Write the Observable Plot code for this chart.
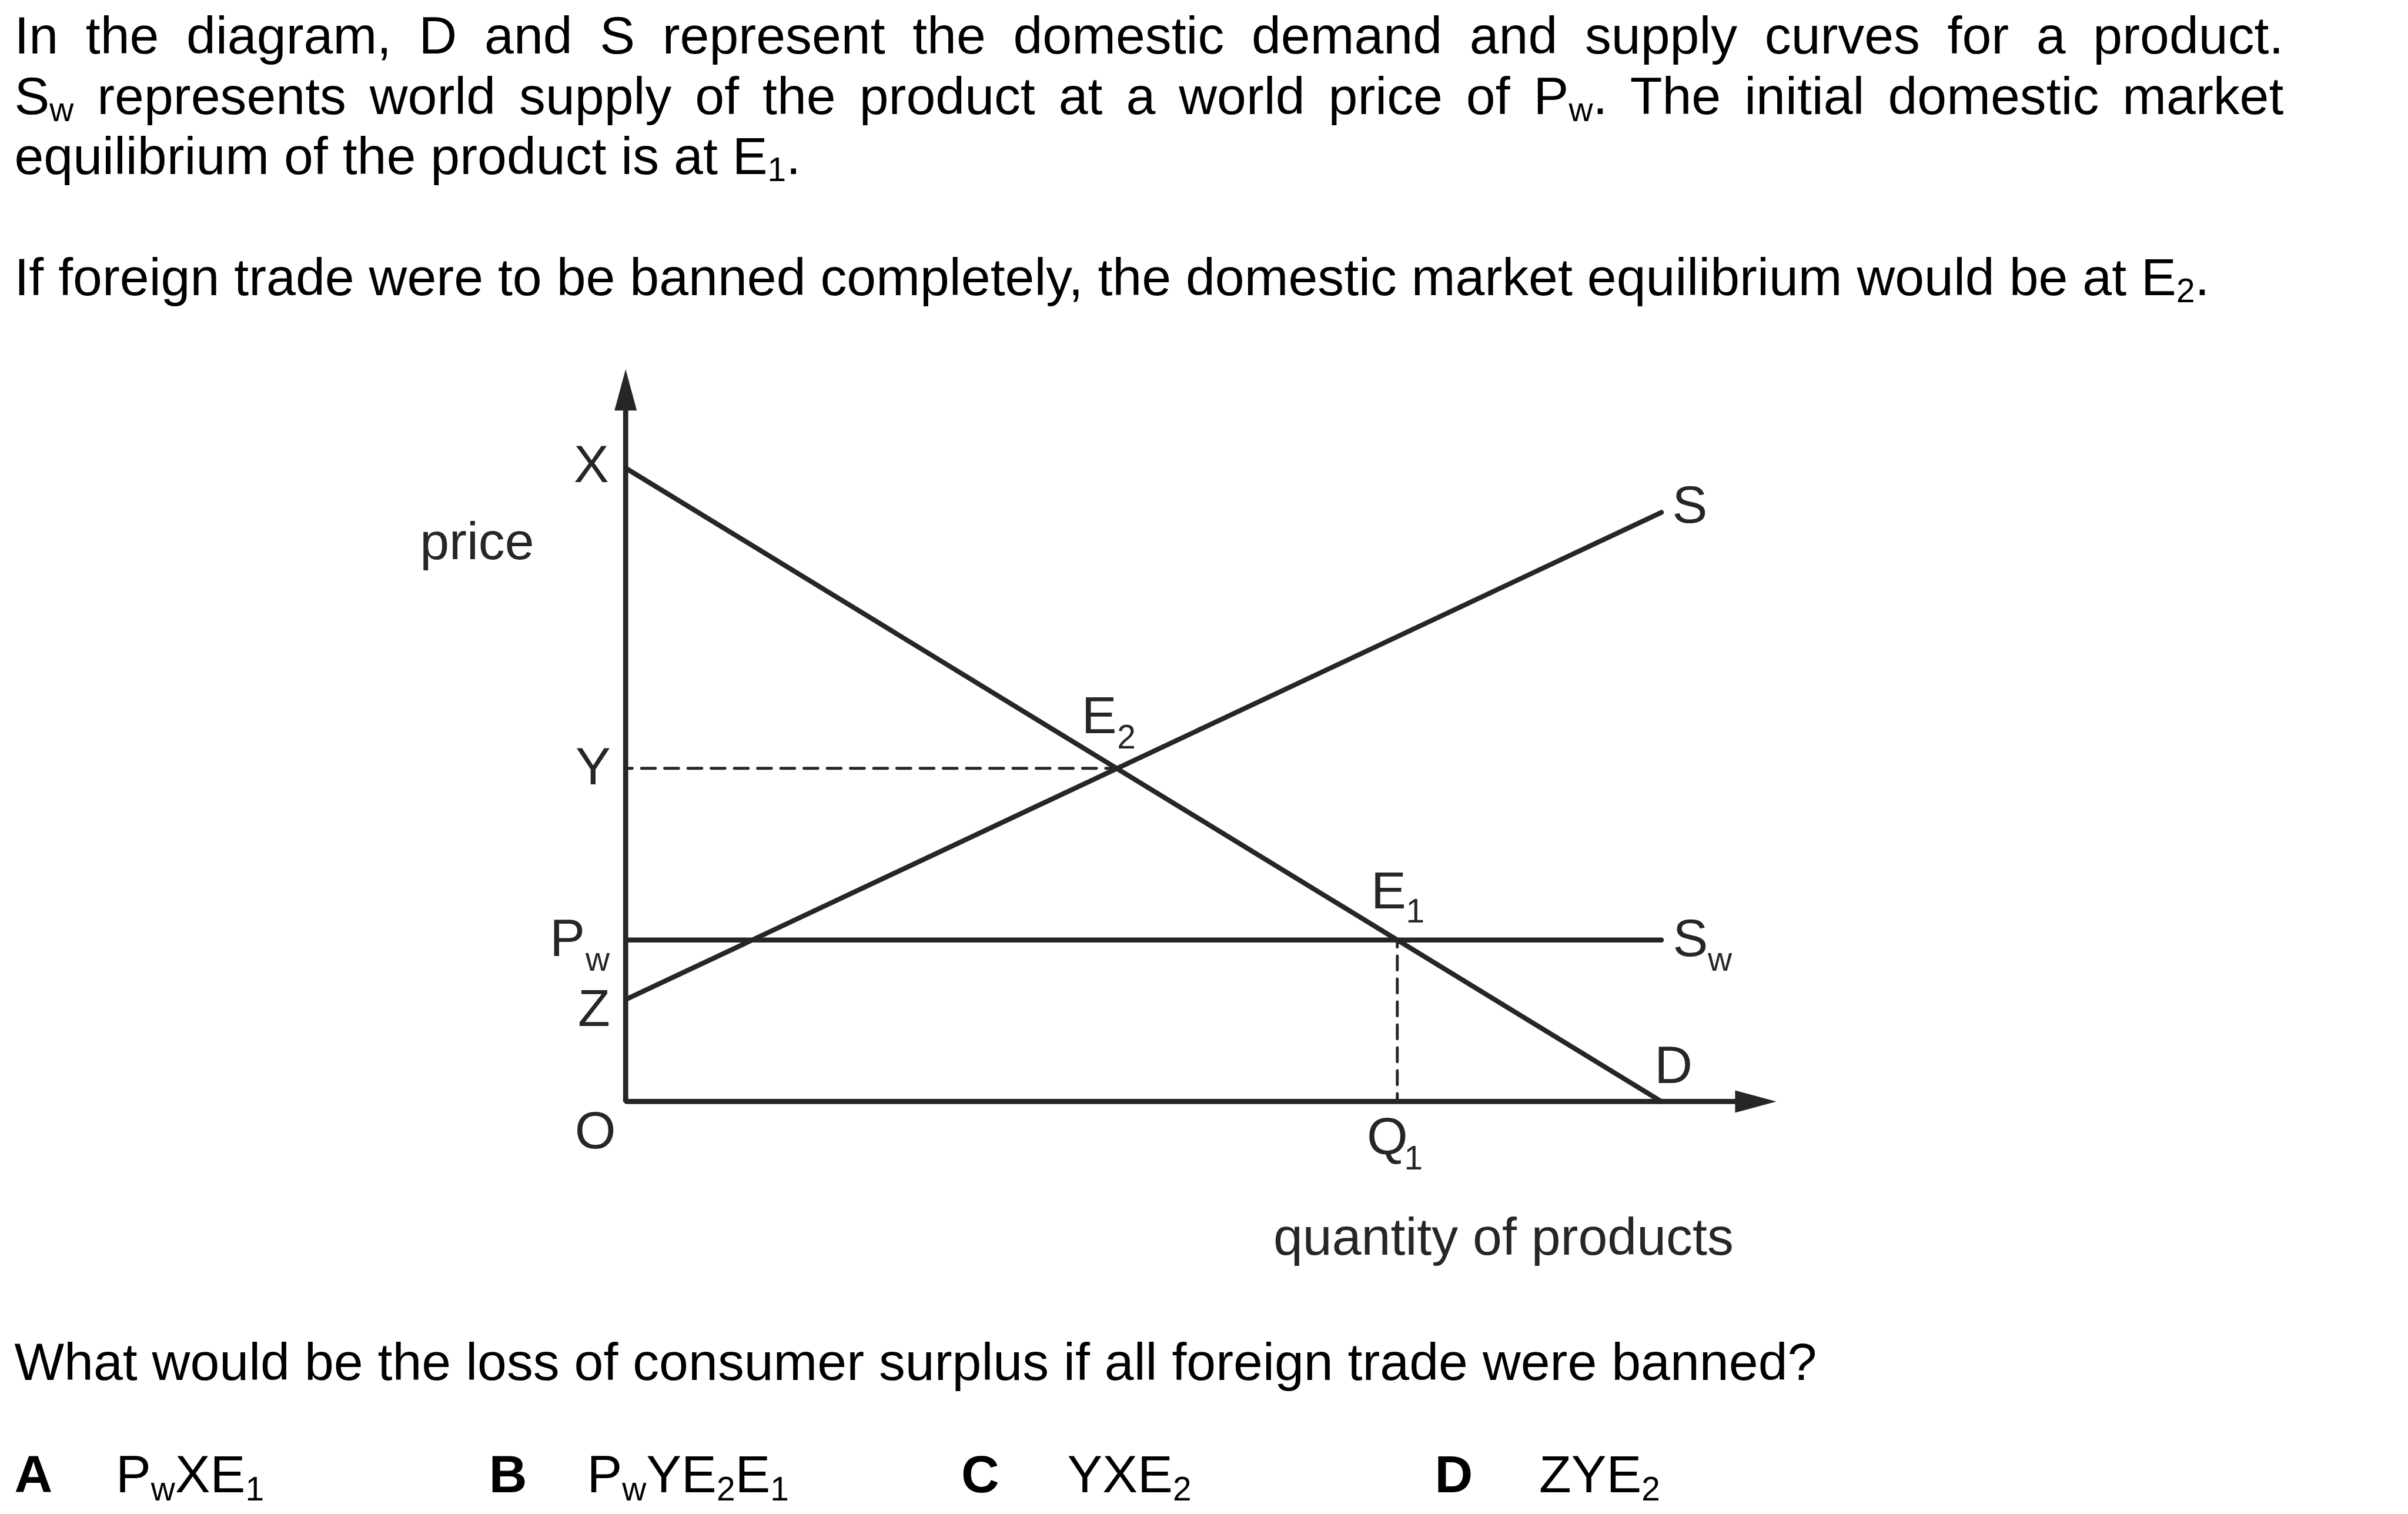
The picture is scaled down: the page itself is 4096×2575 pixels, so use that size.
<!DOCTYPE html>
<html>
<head>
<meta charset="utf-8">
<script src="https://cdn.jsdelivr.net/npm/d3@7"></script>
<script src="https://cdn.jsdelivr.net/npm/@observablehq/plot@0.6"></script>
<style>
html, body { margin: 0; padding: 0; background: #fff; }
body { width: 4096px; height: 2575px; position: relative; overflow: hidden;
  font-family: "Liberation Sans", Arial, sans-serif; color: #000; }
.ln { position: absolute; font-size: 89.7px; line-height: 89.7px; }
.just { text-align: justify; text-align-last: justify; }
.sub { font-size: 56.8px; line-height: 0; }
.b { font-weight: bold; }
#chart { position: absolute; left: 0; top: 546px; }
</style>
</head>
<body>
<div id="chart"></div>
<script>
// ---------------- data ----------------
// quantity units: D meets the quantity axis at 10; price units: X = 10
const demandQ = [0, 10];
const demandP = [10, 0];
const supplyQ = [0, 10];
const supplyP = [1.61, 9.3];
const worldSupplyQ = [0, 10];
const worldPrice = 2.55;
const e1 = {q: 7.45, p: 2.55};
const e2 = {q: 4.74, p: 5.26};
const axisTip = {q: 11.11, p: 11.56};
const axisLineEnd = {q: 10.8, p: 11.0};

const labels = [
  {key: "X", main: "X", sub: "", q: 0, p: 10},
  {key: "Y", main: "Y", sub: "", q: 0, p: 5.26},
  {key: "Pw", main: "P", sub: "w", q: 0, p: 2.55},
  {key: "Z", main: "Z", sub: "", q: 0, p: 1.61},
  {key: "O", main: "O", sub: "", q: 0, p: 0},
  {key: "E2", main: "E", sub: "2", q: 4.74, p: 5.26},
  {key: "E1", main: "E", sub: "1", q: 7.45, p: 2.55},
  {key: "Q1", main: "Q", sub: "1", q: 7.45, p: 0},
  {key: "S", main: "S", sub: "", q: 10, p: 9.3},
  {key: "Sw", main: "S", sub: "w", q: 10, p: 2.55},
  {key: "D", main: "D", sub: "", q: 10, p: 0},
  {key: "price", main: "price", sub: "", q: 0, p: 10},
  {key: "qty", main: "quantity of products", sub: "", q: 10, p: 0}
];

const introLines = [
  ["In the diagram, D and S represent the domestic demand and supply curves for a product."],
  ["S", {sub: "w"}, " represents world supply of the product at a world price of P", {sub: "w"}, ". The initial domestic market"],
  ["equilibrium of the product is at E", {sub: "1"}, "."],
  ["If foreign trade were to be banned completely, the domestic market equilibrium would be at E", {sub: "2"}, "."]
];
const questionText = ["What would be the loss of consumer surplus if all foreign trade were banned?"];
const optionLetters = ["A", "B", "C", "D"];
const optionTexts = [
  ["P", {sub: "w"}, "XE", {sub: "1"}],
  ["P", {sub: "w"}, "YE", {sub: "2"}, "E", {sub: "1"}],
  ["YXE", {sub: "2"}],
  ["ZYE", {sub: "2"}]
];

// ---------------- styles / layout ----------------
const s = 0.975;
const ink = "#262626";
const font = "Liberation Sans, Arial, sans-serif";
const mainSize = 92 * s, subSize = 58.3 * s;

// label offsets in reference px: [anchor, dx, dy] for main and sub
const labelStyle = {
  X:  {m: ["end", -29, 24]},
  Y:  {m: ["end", -26, 28]},
  Pw: {m: ["end", -71, 28], s: ["end", -28, 54]},
  Z:  {m: ["end", -27, 46]},
  O:  {m: ["middle", -53, 82]},
  E2: {m: ["start", -61, -61], s: ["start", 1, -35]},
  E1: {m: ["start", -46, -55], s: ["start", 15, -30]},
  Q1: {m: ["start", -53, 92], s: ["start", 12, 118]},
  S:  {m: ["start", 19, 18]},
  Sw: {m: ["start", 20, 28], s: ["start", 81, 54]},
  D:  {m: ["start", -12, -32]},
  price: {m: ["start", -359, 159]},
  qty: {m: ["start", -677, 267]}
};

const pts = (Q, P) => Q.map((q, i) => ({q, p: P[i]}));

const arrowW = 39 * s, arrowL = 72 * s;
const arrowUp = {draw(ctx) { ctx.moveTo(0, 0); ctx.lineTo(arrowW / 2, arrowL); ctx.lineTo(-arrowW / 2, arrowL); ctx.closePath(); }};
const arrowRight = {draw(ctx) { ctx.moveTo(0, 0); ctx.lineTo(-arrowL, arrowW / 2); ctx.lineTo(-arrowL, -arrowW / 2); ctx.closePath(); }};

const textMarks = [];
for (const l of labels) {
  const st = labelStyle[l.key];
  const [a, dx, dy] = st.m;
  textMarks.push(Plot.text([l], {x: "q", y: "p", text: "main", textAnchor: a, lineAnchor: "bottom",
    dx: dx * s, dy: dy * s, fontSize: mainSize, fontFamily: font, fill: ink}));
  if (l.sub) {
    const [a2, dx2, dy2] = st.s;
    textMarks.push(Plot.text([l], {x: "q", y: "p", text: "sub", textAnchor: a2, lineAnchor: "bottom",
      dx: dx2 * s, dy: dy2 * s, fontSize: subSize, fontFamily: font, fill: ink}));
  }
}

const svgTop = 560, svgH = (2240 - 560) * s;
const chart = Plot.plot({
  width: 4096,
  height: svgH,
  margin: 0,
  x: {domain: [0, 10], range: [1091 * s, 2898 * s], axis: null},
  y: {domain: [0, 10], range: [(1921 - svgTop) * s, (816 - svgTop) * s], axis: null},
  style: {background: "transparent", fontFamily: font},
  marks: [
    Plot.line(pts([0, e2.q], [e2.p, e2.p]), {x: "q", y: "p", stroke: ink, strokeWidth: 5 * s,
      strokeDasharray: `${24.5 * s},${16 * s}`, strokeDashoffset: 13 * s}),
    Plot.line(pts([e1.q, e1.q], [e1.p, 0]), {x: "q", y: "p", stroke: ink, strokeWidth: 5 * s,
      strokeDasharray: `${24.5 * s},${15.5 * s}`, strokeDashoffset: 12 * s}),
    Plot.line(pts(worldSupplyQ, [worldPrice, worldPrice]), {x: "q", y: "p", stroke: ink, strokeWidth: 8.7 * s}),
    Plot.line(pts(demandQ, demandP), {x: "q", y: "p", stroke: ink, strokeWidth: 8.5 * s}),
    Plot.line(pts(supplyQ, supplyP), {x: "q", y: "p", stroke: ink, strokeWidth: 8.5 * s}),
    Plot.line(pts([0, 0, axisLineEnd.q], [axisLineEnd.p, 0, 0]), {x: "q", y: "p", stroke: ink,
      strokeWidth: 9 * s, strokeLinejoin: "miter", strokeLinecap: "butt"}),
    Plot.dot([{q: 0, p: axisTip.p}], {x: "q", y: "p", symbol: arrowUp, r: 10, fill: ink, stroke: "none"}),
    Plot.dot([{q: axisTip.q, p: 0}], {x: "q", y: "p", symbol: arrowRight, r: 10, fill: ink, stroke: "none"}),
    ...textMarks
  ]
});
document.getElementById("chart").appendChild(chart);

// ---------------- html text ----------------
function render(el, segs, subShift) {
  for (const sg of segs) {
    if (typeof sg === "string") el.appendChild(document.createTextNode(sg));
    else {
      const sp = document.createElement("span");
      sp.className = "sub";
      sp.style.verticalAlign = `${-subShift}px`;
      sp.textContent = sg.sub;
      el.appendChild(sp);
    }
  }
}
const F = 92 * s;
const baseToTop = 0.8465 * F;
function addLine(segs, left, baseline, opts = {}) {
  const d = document.createElement("div");
  d.className = "ln" + (opts.just ? " just" : "") + (opts.bold ? " b" : "");
  d.style.left = left + "px";
  d.style.top = (baseline - baseToTop) + "px";
  if (opts.width) d.style.width = opts.width + "px";
  else d.style.whiteSpace = "nowrap";
  render(d, segs, opts.subShift || 12 * s);
  document.body.appendChild(d);
}
const introBase = [94, 199.5, 305, 516];
introLines.forEach((segs, i) => addLine(segs, 25 * s, introBase[i] * s,
  i < 2 ? {just: true, width: (3984 - 25) * s} : {}));
addLine(questionText, 25 * s, 2408.3 * s);
const letterX = [25, 853, 1677, 2503];
const textX = [202, 1024, 1862, 2685];
optionLetters.forEach((L, i) => {
  addLine([L], letterX[i] * s, 2604 * s, {bold: true});
  addLine(optionTexts[i], textX[i] * s, 2604 * s, {subShift: 14 * s});
});
</script>
</body>
</html>
